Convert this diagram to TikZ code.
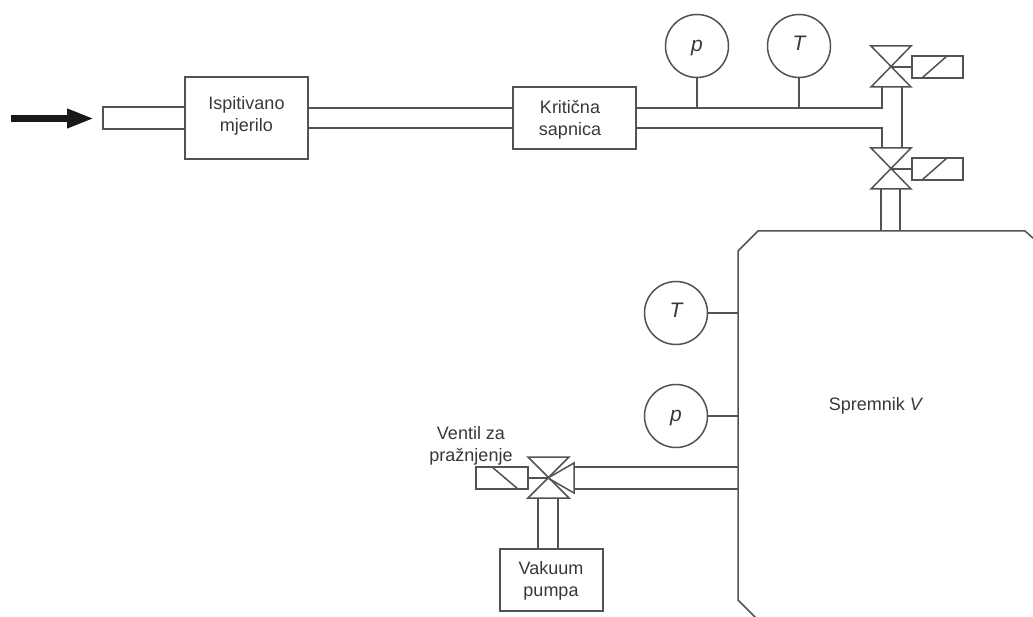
\documentclass[tikz,border=0pt]{standalone}
\usepackage{fontspec}
\setmainfont{Liberation Sans}
\usetikzlibrary{arrows.meta}
\tikzset{
  line/.style={draw=black!68,line width=1.5pt,line join=miter},
  blok/.style={line,inner sep=0pt,outer sep=0pt},
  mjerac/.style={blok,circle,minimum size=63pt,text=black!78,font=\fontsize{21}{22}\selectfont\itshape},
  svitak/.style={blok,minimum width=51pt,minimum height=22pt},
  natpis/.style={inner sep=0pt,align=center,text=black!78,font=\fontsize{18}{22}\selectfont},
}
\begin{document}
\begin{tikzpicture}[x=1pt,y=-1pt]
	\useasboundingbox (0,0) rectangle (1033,617);
	%ulaz
	\coordinate (strelicaA) at (11,118.5);
	\coordinate (strelicaB) at (94,118.5);
	\draw[black!90,line width=7pt,-{Triangle[length=27pt,width=18pt]}] (strelicaA) -- (strelicaB);
	\node[blok,minimum width=123pt,minimum height=82pt] (mjerilo) at (246.5,118) {};
	\node[natpis] (mjeriloNatpis) at (246.5,115.5) {Ispitivano\\mjerilo};
	\node[blok,minimum width=123pt,minimum height=62pt] (sapnica) at (574.5,118) {};
	\node[natpis] (sapnicaNatpis) at (570,119.5) {Kritična\\sapnica};
	\coordinate (ulazG) at (103,107);
	\coordinate (ulazD) at (103,129);
	\draw[line] (mjerilo.west |- ulazG) -- (ulazG) -- (ulazD) -- (mjerilo.west |- ulazD);
	\draw[line] ([yshift=10pt]mjerilo.east) -- ([yshift=10pt]sapnica.west);
	\draw[line] ([yshift=-10pt]mjerilo.east) -- ([yshift=-10pt]sapnica.west);
	%ventili gore
	\foreach \ime/\cy in {ventilA/67,ventilB/169}{
		\coordinate (\ime) at (891,\cy);
		\node[svitak] (\ime svitak) at (937.5,\cy) {};
		\draw[line] (\ime) -- (\ime svitak.west);
		\begin{scope}[shift={(891,\cy)}]
			\draw[line] (-20,-21) -- (20,-21) -- (-20,20) -- (20,20) -- cycle;
			\draw[line] (31,11) -- (56,-11);
		\end{scope}
	}
	\draw[line] ([yshift=10pt]sapnica.east) -- (882,108) -- (882,87);
	\draw[line] ([yshift=-10pt]sapnica.east) -- (882,128) -- (882,148);
	\draw[line] (902,87) -- (902,148);
	%spremnik
	\coordinate (spremnikG) at (758,231);
	\draw[line] (1034,239) -- (1025,231) -- (spremnikG) -- (738,251) -- (738,600) -- (756,618);
	\node[natpis] (spremnik) at (876,406) {Spremnik \textit{V}};
	\draw[line] (881,189) -- (881,231);
	\draw[line] (900,189) -- (900,231);
	%mjerni instrumenti
	\node[mjerac] (pGore) at (697,46) {\raisebox{-2pt}[\height][\depth]{p}};
	\node[mjerac] (tGore) at (799,46) {\raisebox{3pt}[\height][\depth]{T}};
	\node[mjerac] (tDolje) at (676,313) {\raisebox{3pt}[\height][\depth]{T}};
	\node[mjerac] (pDolje) at (676,416) {\raisebox{-2pt}[\height][\depth]{p}};
	\draw[line] (pGore.south) -- (pGore |- 0,108);
	\draw[line] (tGore.south) -- (tGore |- 0,108);
	\draw[line] (tDolje.east) -- (738,313);
	\draw[line] (pDolje.east) -- (738,416);
	%ventil za praznjenje
	\coordinate (ventilC) at (548,478);
	\node[svitak,minimum width=52pt] (ventilCsvitak) at (502,478) {};
	\draw[line] (ventilC) -- (ventilCsvitak.east);
	\draw[line] (492,467) -- (518,489);
	\draw[line] (528,457) -- (569,457) -- (528,498) -- (569,498) -- cycle;
	\draw[line] (ventilC) -- (574,463) -- (574,493) -- cycle;
	\draw[line] (574,467) -- (738,467);
	\draw[line] (574,489) -- (738,489);
	\node[natpis] (ventilNatpis) at (471,446) {Ventil za\\pražnjenje};
	\node[blok,minimum width=103pt,minimum height=62pt] (pumpa) at (551.5,580) {};
	\node[natpis] (pumpaNatpis) at (551,580.5) {Vakuum\\pumpa};
	\draw[line] (538,498) -- (538,549);
	\draw[line] (558,498) -- (558,549);
\end{tikzpicture}
\end{document}
